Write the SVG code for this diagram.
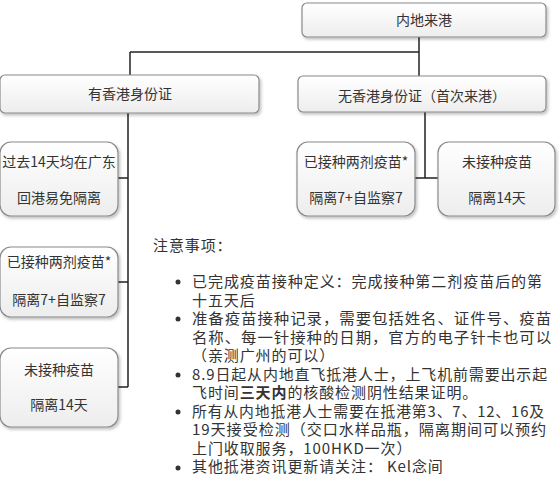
<svg xmlns="http://www.w3.org/2000/svg" width="559" height="500" viewBox="0 0 559 500">
<defs>
<linearGradient id="g" x1="0" y1="0" x2="0" y2="1">
<stop offset="0" stop-color="#ffffff"/>
<stop offset="1" stop-color="#ededed"/>
</linearGradient>
<filter id="sh" x="-10%" y="-10%" width="130%" height="140%">
<feDropShadow dx="1.5" dy="2" stdDeviation="1.5" flood-color="#000" flood-opacity="0.25"/>
</filter>
<style>
.box{fill:url(#g);stroke:#8a8a8a;stroke-width:1.2;filter:url(#sh)}
.t{font-family:"Microsoft YaHei","Noto Sans CJK SC",sans-serif;font-size:14px;fill:#333;text-anchor:middle}
.n{font-family:"Microsoft YaHei","Noto Sans CJK SC",sans-serif;font-size:15px;letter-spacing:0.9px;fill:#333}
.c{fill:none;stroke:#222;stroke-width:1.5}
.b{fill:#333}
</style>
</defs>
<rect width="559" height="500" fill="#fff"/>
<g id="connectors">
<path class="c" d="M419,37 V76"/>
<path class="c" d="M130,52 H419"/>
<path class="c" d="M130,52 V75"/>
<path class="c" d="M128,113 V387 M118,178 H128 M118,282 H128 M118,387 H128"/>
<path class="c" d="M425,112 V178 M415,178 H438"/>
</g>
<g id="n-top"><rect class="box" x="302" y="3" width="244" height="34" rx="5"/><text class="t" x="424" y="25">内地来港</text></g>
<g id="n-hkid"><rect class="box" x="0" y="75" width="259" height="38" rx="5"/><text class="t" x="130" y="99">有香港身份证</text></g>
<g id="n-nohkid"><rect class="box" x="298" y="76" width="248" height="36" rx="5"/><text class="t" x="422" y="101">无香港身份证（首次来港）</text></g>
<g id="n-gd"><rect class="box" x="0" y="142" width="118" height="74" rx="11"/><text class="t" x="59" y="167">过去14天均在广东</text><text class="t" x="59" y="203">回港易免隔离</text></g>
<g id="n-vac-l"><rect class="box" x="0" y="247" width="118" height="70" rx="11"/><text class="t" x="59" y="267">已接种两剂疫苗*</text><text class="t" x="59" y="305">隔离7+自监察7</text></g>
<g id="n-novac-l"><rect class="box" x="0" y="348" width="118" height="79" rx="11"/><text class="t" x="59" y="375">未接种疫苗</text><text class="t" x="59" y="410">隔离14天</text></g>
<g id="n-vac-r"><rect class="box" x="297" y="142" width="118" height="74" rx="11"/><text class="t" x="356" y="167">已接种两剂疫苗*</text><text class="t" x="356" y="203">隔离7+自监察7</text></g>
<g id="n-novac-r"><rect class="box" x="438" y="142" width="117" height="74" rx="11"/><text class="t" x="497" y="167">未接种疫苗</text><text class="t" x="497" y="203">隔离14天</text></g>
<g id="notes">
<text class="n" x="153" y="251">注意事项：</text>
<circle class="b" cx="178" cy="282" r="2.5"/>
<circle class="b" cx="178" cy="319" r="2.5"/>
<circle class="b" cx="178" cy="375" r="2.5"/>
<circle class="b" cx="178" cy="412" r="2.5"/>
<circle class="b" cx="178" cy="468" r="2.5"/>
<text class="n" x="192" y="287" textLength="351" lengthAdjust="spacingAndGlyphs">已完成疫苗接种定义：完成接种第二剂疫苗后的第</text>
<text class="n" x="192" y="305.5">十五天后</text>
<text class="n" x="192" y="324" textLength="360" lengthAdjust="spacingAndGlyphs">准备疫苗接种记录，需要包括姓名、证件号、疫苗</text>
<text class="n" x="192" y="342.5" textLength="360" lengthAdjust="spacingAndGlyphs">名称、每一针接种的日期，官方的电子针卡也可以</text>
<text class="n" x="192" y="361">（亲测广州的可以）</text>
<text class="n" x="192" y="379.5" textLength="356" lengthAdjust="spacingAndGlyphs">8.9日起从内地直飞抵港人士，上飞机前需要出示起</text>
<text class="n" x="192" y="398">飞时间<tspan font-weight="bold">三天内</tspan>的核酸检测阴性结果证明。</text>
<text class="n" x="192" y="416.5" textLength="353" lengthAdjust="spacingAndGlyphs">所有从内地抵港人士需要在抵港第3、7、12、16及</text>
<text class="n" x="192" y="435" textLength="355" lengthAdjust="spacingAndGlyphs">19天接受检测（交口水样品瓶，隔离期间可以预约</text>
<text class="n" x="192" y="453.5">上门收取服务，100HKD一次）</text>
<text class="n" x="192" y="472">其他抵港资讯更新请关注： Kel念间</text>
</g>
</svg>
